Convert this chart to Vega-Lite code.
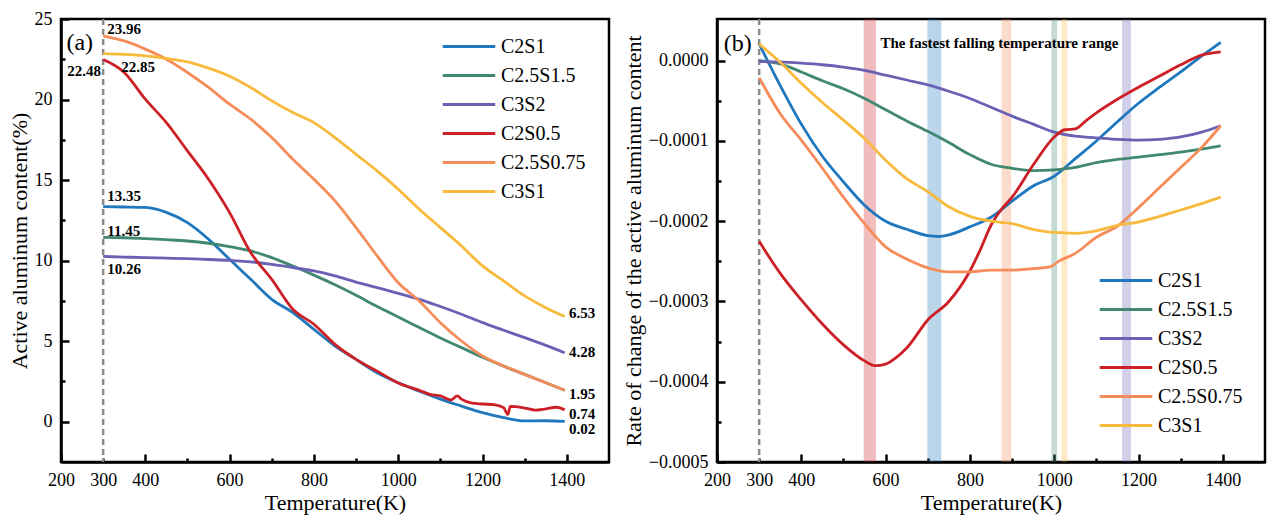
{
  "$schema": "https://vega.github.io/schema/vega-lite/v6.json",
  "padding": {"left": 6, "top": 8, "right": 5, "bottom": 5},
  "bounds": "flush",
  "spacing": 108,
  "config": {
    "font": "Liberation Serif",
    "view": {"stroke": "black", "strokeWidth": 2.5},
    "axis": {
      "grid": false, "labelFlush": false,
      "labelFont": "Liberation Serif", "labelFontSize": 18, "labelColor": "black",
      "titleFont": "Liberation Serif", "titleFontSize": 22, "titleFontWeight": "normal", "titleColor": "black",
      "domainColor": "black", "domainWidth": 2.5,
      "tickColor": "black", "tickWidth": 2.5, "tickSize": -8, "labelPadding": 17, "titlePadding": 3
    },
    "legend": {
      "orient": "none", "title": null, "padding": 0,
      "symbolType": "M-2.5,0H2.5", "symbolSize": 441, "symbolStrokeWidth": 3,
      "labelFont": "Liberation Serif", "labelFontSize": 20, "labelColor": "black",
      "labelOffset": 20, "rowPadding": 7, "labelLimit": 300
    }
  },
  "datasets": {
    "left": [
      {"s":"C2S1","T":300,"v":13.35},{"s":"C2S1","T":350,"v":13.33},{"s":"C2S1","T":400,"v":13.3},{"s":"C2S1","T":450,"v":13.0},{"s":"C2S1","T":500,"v":12.36},{"s":"C2S1","T":550,"v":11.33},{"s":"C2S1","T":600,"v":10.08},{"s":"C2S1","T":650,"v":8.84},{"s":"C2S1","T":700,"v":7.6},{"s":"C2S1","T":750,"v":6.77},{"s":"C2S1","T":800,"v":5.73},{"s":"C2S1","T":850,"v":4.7},{"s":"C2S1","T":900,"v":3.87},{"s":"C2S1","T":950,"v":3.04},{"s":"C2S1","T":1000,"v":2.42},{"s":"C2S1","T":1050,"v":1.9},{"s":"C2S1","T":1100,"v":1.4},{"s":"C2S1","T":1150,"v":0.97},{"s":"C2S1","T":1200,"v":0.56},{"s":"C2S1","T":1250,"v":0.25},{"s":"C2S1","T":1300,"v":0.05},{"s":"C2S1","T":1350,"v":0.06},{"s":"C2S1","T":1395,"v":0.02},
      {"s":"C2.5S1.5","T":300,"v":11.45},{"s":"C2.5S1.5","T":350,"v":11.42},{"s":"C2.5S1.5","T":400,"v":11.37},{"s":"C2.5S1.5","T":450,"v":11.3},{"s":"C2.5S1.5","T":500,"v":11.22},{"s":"C2.5S1.5","T":550,"v":11.08},{"s":"C2.5S1.5","T":600,"v":10.87},{"s":"C2.5S1.5","T":650,"v":10.6},{"s":"C2.5S1.5","T":700,"v":10.19},{"s":"C2.5S1.5","T":750,"v":9.67},{"s":"C2.5S1.5","T":800,"v":9.1},{"s":"C2.5S1.5","T":850,"v":8.5},{"s":"C2.5S1.5","T":900,"v":7.85},{"s":"C2.5S1.5","T":950,"v":7.15},{"s":"C2.5S1.5","T":1000,"v":6.5},{"s":"C2.5S1.5","T":1050,"v":5.85},{"s":"C2.5S1.5","T":1100,"v":5.2},{"s":"C2.5S1.5","T":1150,"v":4.6},{"s":"C2.5S1.5","T":1200,"v":4.0},{"s":"C2.5S1.5","T":1250,"v":3.45},{"s":"C2.5S1.5","T":1300,"v":2.94},{"s":"C2.5S1.5","T":1350,"v":2.42},{"s":"C2.5S1.5","T":1395,"v":1.95},
      {"s":"C3S2","T":300,"v":10.26},{"s":"C3S2","T":350,"v":10.22},{"s":"C3S2","T":400,"v":10.19},{"s":"C3S2","T":450,"v":10.15},{"s":"C3S2","T":500,"v":10.12},{"s":"C3S2","T":550,"v":10.07},{"s":"C3S2","T":600,"v":10.02},{"s":"C3S2","T":650,"v":9.92},{"s":"C3S2","T":700,"v":9.77},{"s":"C3S2","T":750,"v":9.57},{"s":"C3S2","T":800,"v":9.36},{"s":"C3S2","T":850,"v":9.05},{"s":"C3S2","T":900,"v":8.67},{"s":"C3S2","T":950,"v":8.32},{"s":"C3S2","T":1000,"v":7.97},{"s":"C3S2","T":1050,"v":7.6},{"s":"C3S2","T":1100,"v":7.15},{"s":"C3S2","T":1150,"v":6.67},{"s":"C3S2","T":1200,"v":6.15},{"s":"C3S2","T":1250,"v":5.68},{"s":"C3S2","T":1300,"v":5.22},{"s":"C3S2","T":1350,"v":4.74},{"s":"C3S2","T":1395,"v":4.28},
      {"s":"C2S0.5","T":300,"v":22.48},{"s":"C2S0.5","T":350,"v":21.68},{"s":"C2S0.5","T":400,"v":20.02},{"s":"C2S0.5","T":450,"v":18.57},{"s":"C2S0.5","T":500,"v":16.81},{"s":"C2S0.5","T":550,"v":15.05},{"s":"C2S0.5","T":600,"v":12.98},{"s":"C2S0.5","T":650,"v":10.5},{"s":"C2S0.5","T":700,"v":8.84},{"s":"C2S0.5","T":750,"v":6.98},{"s":"C2S0.5","T":800,"v":6.05},{"s":"C2S0.5","T":850,"v":4.8},{"s":"C2S0.5","T":900,"v":3.87},{"s":"C2S0.5","T":950,"v":3.14},{"s":"C2S0.5","T":1000,"v":2.4},{"s":"C2S0.5","T":1050,"v":1.95},{"s":"C2S0.5","T":1075,"v":1.7},{"s":"C2S0.5","T":1100,"v":1.6},{"s":"C2S0.5","T":1125,"v":1.35},{"s":"C2S0.5","T":1140,"v":1.6},{"s":"C2S0.5","T":1150,"v":1.4},{"s":"C2S0.5","T":1175,"v":1.15},{"s":"C2S0.5","T":1200,"v":1.1},{"s":"C2S0.5","T":1230,"v":1.05},{"s":"C2S0.5","T":1250,"v":0.87},{"s":"C2S0.5","T":1260,"v":0.45},{"s":"C2S0.5","T":1266,"v":0.95},{"s":"C2S0.5","T":1300,"v":0.85},{"s":"C2S0.5","T":1325,"v":0.72},{"s":"C2S0.5","T":1350,"v":0.8},{"s":"C2S0.5","T":1375,"v":0.9},{"s":"C2S0.5","T":1395,"v":0.74},
      {"s":"C2.5S0.75","T":300,"v":23.96},{"s":"C2.5S0.75","T":350,"v":23.64},{"s":"C2.5S0.75","T":400,"v":23.13},{"s":"C2.5S0.75","T":450,"v":22.5},{"s":"C2.5S0.75","T":500,"v":21.68},{"s":"C2.5S0.75","T":550,"v":20.75},{"s":"C2.5S0.75","T":600,"v":19.71},{"s":"C2.5S0.75","T":650,"v":18.78},{"s":"C2.5S0.75","T":700,"v":17.64},{"s":"C2.5S0.75","T":750,"v":16.29},{"s":"C2.5S0.75","T":800,"v":15.05},{"s":"C2.5S0.75","T":850,"v":13.71},{"s":"C2.5S0.75","T":900,"v":12.05},{"s":"C2.5S0.75","T":950,"v":10.29},{"s":"C2.5S0.75","T":1000,"v":8.63},{"s":"C2.5S0.75","T":1050,"v":7.5},{"s":"C2.5S0.75","T":1100,"v":6.15},{"s":"C2.5S0.75","T":1150,"v":5.01},{"s":"C2.5S0.75","T":1200,"v":4.08},{"s":"C2.5S0.75","T":1250,"v":3.46},{"s":"C2.5S0.75","T":1300,"v":2.94},{"s":"C2.5S0.75","T":1350,"v":2.42},{"s":"C2.5S0.75","T":1395,"v":1.95},
      {"s":"C3S1","T":300,"v":22.85},{"s":"C3S1","T":350,"v":22.8},{"s":"C3S1","T":400,"v":22.71},{"s":"C3S1","T":450,"v":22.55},{"s":"C3S1","T":500,"v":22.34},{"s":"C3S1","T":550,"v":21.95},{"s":"C3S1","T":600,"v":21.45},{"s":"C3S1","T":650,"v":20.75},{"s":"C3S1","T":700,"v":19.92},{"s":"C3S1","T":750,"v":19.2},{"s":"C3S1","T":800,"v":18.57},{"s":"C3S1","T":850,"v":17.64},{"s":"C3S1","T":900,"v":16.6},{"s":"C3S1","T":950,"v":15.57},{"s":"C3S1","T":1000,"v":14.43},{"s":"C3S1","T":1050,"v":13.19},{"s":"C3S1","T":1100,"v":12.05},{"s":"C3S1","T":1150,"v":10.91},{"s":"C3S1","T":1200,"v":9.67},{"s":"C3S1","T":1250,"v":8.74},{"s":"C3S1","T":1300,"v":7.81},{"s":"C3S1","T":1350,"v":7.08},{"s":"C3S1","T":1395,"v":6.53}
    ],
    "right": [
      {"s":"C2S1","T":300,"v":0.21e-4},{"s":"C2S1","T":350,"v":-0.31e-4},{"s":"C2S1","T":400,"v":-0.79e-4},{"s":"C2S1","T":450,"v":-1.19e-4},{"s":"C2S1","T":500,"v":-1.51e-4},{"s":"C2S1","T":550,"v":-1.8e-4},{"s":"C2S1","T":600,"v":-2.0e-4},{"s":"C2S1","T":650,"v":-2.1e-4},{"s":"C2S1","T":700,"v":-2.18e-4},{"s":"C2S1","T":725,"v":-2.19e-4},{"s":"C2S1","T":750,"v":-2.17e-4},{"s":"C2S1","T":800,"v":-2.07e-4},{"s":"C2S1","T":850,"v":-1.95e-4},{"s":"C2S1","T":900,"v":-1.75e-4},{"s":"C2S1","T":950,"v":-1.56e-4},{"s":"C2S1","T":1000,"v":-1.44e-4},{"s":"C2S1","T":1050,"v":-1.22e-4},{"s":"C2S1","T":1100,"v":-1.0e-4},{"s":"C2S1","T":1150,"v":-0.76e-4},{"s":"C2S1","T":1200,"v":-0.53e-4},{"s":"C2S1","T":1250,"v":-0.33e-4},{"s":"C2S1","T":1300,"v":-0.14e-4},{"s":"C2S1","T":1350,"v":0.06e-4},{"s":"C2S1","T":1395,"v":0.23e-4},
      {"s":"C2.5S1.5","T":300,"v":0.0},{"s":"C2.5S1.5","T":350,"v":-0.04e-4},{"s":"C2.5S1.5","T":400,"v":-0.14e-4},{"s":"C2.5S1.5","T":450,"v":-0.25e-4},{"s":"C2.5S1.5","T":500,"v":-0.35e-4},{"s":"C2.5S1.5","T":550,"v":-0.47e-4},{"s":"C2.5S1.5","T":600,"v":-0.61e-4},{"s":"C2.5S1.5","T":650,"v":-0.75e-4},{"s":"C2.5S1.5","T":700,"v":-0.88e-4},{"s":"C2.5S1.5","T":750,"v":-1.02e-4},{"s":"C2.5S1.5","T":800,"v":-1.17e-4},{"s":"C2.5S1.5","T":850,"v":-1.29e-4},{"s":"C2.5S1.5","T":900,"v":-1.34e-4},{"s":"C2.5S1.5","T":950,"v":-1.37e-4},{"s":"C2.5S1.5","T":1000,"v":-1.36e-4},{"s":"C2.5S1.5","T":1050,"v":-1.33e-4},{"s":"C2.5S1.5","T":1100,"v":-1.27e-4},{"s":"C2.5S1.5","T":1150,"v":-1.23e-4},{"s":"C2.5S1.5","T":1200,"v":-1.2e-4},{"s":"C2.5S1.5","T":1250,"v":-1.17e-4},{"s":"C2.5S1.5","T":1300,"v":-1.14e-4},{"s":"C2.5S1.5","T":1350,"v":-1.1e-4},{"s":"C2.5S1.5","T":1395,"v":-1.06e-4},
      {"s":"C3S2","T":300,"v":-0.01e-4},{"s":"C3S2","T":350,"v":-0.015e-4},{"s":"C3S2","T":400,"v":-0.03e-4},{"s":"C3S2","T":450,"v":-0.05e-4},{"s":"C3S2","T":500,"v":-0.08e-4},{"s":"C3S2","T":550,"v":-0.12e-4},{"s":"C3S2","T":600,"v":-0.18e-4},{"s":"C3S2","T":650,"v":-0.24e-4},{"s":"C3S2","T":700,"v":-0.3e-4},{"s":"C3S2","T":750,"v":-0.38e-4},{"s":"C3S2","T":800,"v":-0.47e-4},{"s":"C3S2","T":850,"v":-0.58e-4},{"s":"C3S2","T":900,"v":-0.69e-4},{"s":"C3S2","T":950,"v":-0.79e-4},{"s":"C3S2","T":1000,"v":-0.89e-4},{"s":"C3S2","T":1050,"v":-0.94e-4},{"s":"C3S2","T":1100,"v":-0.96e-4},{"s":"C3S2","T":1150,"v":-0.98e-4},{"s":"C3S2","T":1200,"v":-0.99e-4},{"s":"C3S2","T":1250,"v":-0.98e-4},{"s":"C3S2","T":1300,"v":-0.95e-4},{"s":"C3S2","T":1350,"v":-0.89e-4},{"s":"C3S2","T":1395,"v":-0.81e-4},
      {"s":"C2S0.5","T":300,"v":-2.25e-4},{"s":"C2S0.5","T":350,"v":-2.65e-4},{"s":"C2S0.5","T":400,"v":-2.98e-4},{"s":"C2S0.5","T":450,"v":-3.28e-4},{"s":"C2S0.5","T":500,"v":-3.54e-4},{"s":"C2S0.5","T":550,"v":-3.74e-4},{"s":"C2S0.5","T":575,"v":-3.8e-4},{"s":"C2S0.5","T":600,"v":-3.78e-4},{"s":"C2S0.5","T":625,"v":-3.7e-4},{"s":"C2S0.5","T":650,"v":-3.58e-4},{"s":"C2S0.5","T":700,"v":-3.23e-4},{"s":"C2S0.5","T":750,"v":-3.0e-4},{"s":"C2S0.5","T":800,"v":-2.62e-4},{"s":"C2S0.5","T":825,"v":-2.35e-4},{"s":"C2S0.5","T":850,"v":-2.05e-4},{"s":"C2S0.5","T":875,"v":-1.85e-4},{"s":"C2S0.5","T":900,"v":-1.7e-4},{"s":"C2S0.5","T":950,"v":-1.3e-4},{"s":"C2S0.5","T":1000,"v":-0.95e-4},{"s":"C2S0.5","T":1025,"v":-0.86e-4},{"s":"C2S0.5","T":1050,"v":-0.85e-4},{"s":"C2S0.5","T":1075,"v":-0.75e-4},{"s":"C2S0.5","T":1100,"v":-0.65e-4},{"s":"C2S0.5","T":1150,"v":-0.48e-4},{"s":"C2S0.5","T":1200,"v":-0.33e-4},{"s":"C2S0.5","T":1250,"v":-0.19e-4},{"s":"C2S0.5","T":1300,"v":-0.05e-4},{"s":"C2S0.5","T":1350,"v":0.07e-4},{"s":"C2S0.5","T":1395,"v":0.11e-4},
      {"s":"C2.5S0.75","T":300,"v":-0.21e-4},{"s":"C2.5S0.75","T":350,"v":-0.66e-4},{"s":"C2.5S0.75","T":400,"v":-0.99e-4},{"s":"C2.5S0.75","T":450,"v":-1.34e-4},{"s":"C2.5S0.75","T":500,"v":-1.7e-4},{"s":"C2.5S0.75","T":550,"v":-2.03e-4},{"s":"C2.5S0.75","T":600,"v":-2.32e-4},{"s":"C2.5S0.75","T":650,"v":-2.47e-4},{"s":"C2.5S0.75","T":700,"v":-2.58e-4},{"s":"C2.5S0.75","T":750,"v":-2.63e-4},{"s":"C2.5S0.75","T":800,"v":-2.63e-4},{"s":"C2.5S0.75","T":850,"v":-2.61e-4},{"s":"C2.5S0.75","T":900,"v":-2.61e-4},{"s":"C2.5S0.75","T":950,"v":-2.59e-4},{"s":"C2.5S0.75","T":990,"v":-2.57e-4},{"s":"C2.5S0.75","T":1010,"v":-2.5e-4},{"s":"C2.5S0.75","T":1050,"v":-2.4e-4},{"s":"C2.5S0.75","T":1100,"v":-2.2e-4},{"s":"C2.5S0.75","T":1150,"v":-2.06e-4},{"s":"C2.5S0.75","T":1200,"v":-1.83e-4},{"s":"C2.5S0.75","T":1250,"v":-1.58e-4},{"s":"C2.5S0.75","T":1300,"v":-1.33e-4},{"s":"C2.5S0.75","T":1350,"v":-1.08e-4},{"s":"C2.5S0.75","T":1395,"v":-0.81e-4},
      {"s":"C3S1","T":300,"v":0.21e-4},{"s":"C3S1","T":350,"v":-0.02e-4},{"s":"C3S1","T":400,"v":-0.28e-4},{"s":"C3S1","T":450,"v":-0.52e-4},{"s":"C3S1","T":500,"v":-0.74e-4},{"s":"C3S1","T":550,"v":-0.97e-4},{"s":"C3S1","T":600,"v":-1.24e-4},{"s":"C3S1","T":650,"v":-1.47e-4},{"s":"C3S1","T":700,"v":-1.63e-4},{"s":"C3S1","T":750,"v":-1.82e-4},{"s":"C3S1","T":800,"v":-1.94e-4},{"s":"C3S1","T":850,"v":-2.0e-4},{"s":"C3S1","T":900,"v":-2.03e-4},{"s":"C3S1","T":950,"v":-2.1e-4},{"s":"C3S1","T":1000,"v":-2.14e-4},{"s":"C3S1","T":1050,"v":-2.15e-4},{"s":"C3S1","T":1100,"v":-2.12e-4},{"s":"C3S1","T":1150,"v":-2.05e-4},{"s":"C3S1","T":1200,"v":-2.01e-4},{"s":"C3S1","T":1250,"v":-1.94e-4},{"s":"C3S1","T":1300,"v":-1.86e-4},{"s":"C3S1","T":1350,"v":-1.78e-4},{"s":"C3S1","T":1395,"v":-1.7e-4}
    ],
    "bands": [
      {"b":"C2S0.5","T":548,"T2":577},
      {"b":"C2S1","T":699,"T2":732},
      {"b":"C2.5S0.75","T":875,"T2":898},
      {"b":"C2.5S1.5","T":993,"T2":1007},
      {"b":"C3S1","T":1017,"T2":1031},
      {"b":"C3S2","T":1161,"T2":1182}
    ]
  },
  "hconcat": [
    {
      "width": 548,
      "height": 443,
      "encoding": {
        "x": {
          "field": "T", "type": "quantitative", "title": "Temperature(K)",
          "scale": {"domain": [200, 1500], "nice": false},
          "axis": {
            "values": [200, 300, 400, 500, 600, 700, 800, 900, 1000, 1100, 1200, 1300, 1400],
            "format": "d",
            "labelExpr": "(datum.value % 200 == 100 && datum.value != 300) ? '' : datum.label",
            "tickDash": {"condition": {"test": "datum.value % 200 == 100", "value": [4, 30]}, "value": [8, 0]}
          }
        }
      },
      "layer": [
        {
          "data": {"values": [{"T": 300}]},
          "mark": {"type": "rule", "color": "#8a8a8a", "strokeWidth": 2.5, "strokeDash": [6, 4]},
          "encoding": {}
        },
        {
          "data": {"name": "left"},
          "mark": {"type": "line", "strokeWidth": 2.8, "interpolate": "monotone"},
          "encoding": {
            "y": {
              "field": "v", "type": "quantitative", "title": "Active aluminum content(%)",
              "scale": {"domain": [-2.5, 25], "nice": false, "zero": false},
              "axis": {
                "values": [0, 2.5, 5, 7.5, 10, 12.5, 15, 17.5, 20, 22.5, 25],
                "labelExpr": "datum.value % 5 == 0 ? format(datum.value, 'd') : ''",
                "tickDash": {"condition": {"test": "datum.value % 5 != 0", "value": [4, 30]}, "value": [8, 0]}
              }
            },
            "color": {
              "field": "s", "type": "nominal",
              "scale": {
                "domain": ["C2S1", "C2.5S1.5", "C3S2", "C2S0.5", "C2.5S0.75", "C3S1"],
                "range": ["#1f77be", "#408872", "#6a60b4", "#cc2026", "#f58c5a", "#f8ba3c"]
              },
              "legend": {"legendX": 396, "legendY": 15.5}
            }
          }
        },
        {
          "data": {"values": [
            {"T": 310, "v": 24.35, "t": "23.96"},
            {"T": 343, "v": 22.0, "t": "22.85"},
            {"T": 310, "v": 14.0, "t": "13.35"},
            {"T": 310, "v": 11.85, "t": "11.45"},
            {"T": 310, "v": 9.45, "t": "10.26"},
            {"T": 1405, "v": 6.77, "t": "6.53"},
            {"T": 1405, "v": 4.35, "t": "4.28"},
            {"T": 1405, "v": 1.74, "t": "1.95"},
            {"T": 1405, "v": 0.5, "t": "0.74"},
            {"T": 1405, "v": -0.45, "t": "0.02"}
          ]},
          "mark": {"type": "text", "align": "left", "baseline": "middle", "fontWeight": "bold", "fontSize": 15, "color": "black"},
          "encoding": {
            "y": {"field": "v", "type": "quantitative", "title": "Active aluminum content(%)"},
            "text": {"field": "t"}
          }
        },
        {
          "data": {"values": [{"T": 295, "v": 21.8, "t": "22.48"}]},
          "mark": {"type": "text", "align": "right", "baseline": "middle", "fontWeight": "bold", "fontSize": 15, "color": "black"},
          "encoding": {
            "y": {"field": "v", "type": "quantitative", "title": "Active aluminum content(%)"},
            "text": {"field": "t"}
          }
        },
        {
          "data": {"values": [{"T": 213, "v": 23.5, "t": "(a)"}]},
          "mark": {"type": "text", "align": "left", "baseline": "middle", "fontSize": 24, "color": "black"},
          "encoding": {
            "y": {"field": "v", "type": "quantitative", "title": "Active aluminum content(%)"},
            "text": {"field": "t"}
          }
        }
      ]
    },
    {
      "width": 548,
      "height": 443,
      "encoding": {
        "x": {
          "field": "T", "type": "quantitative", "title": "Temperature(K)",
          "scale": {"domain": [200, 1500], "nice": false},
          "axis": {
            "values": [200, 300, 400, 500, 600, 700, 800, 900, 1000, 1100, 1200, 1300, 1400],
            "format": "d",
            "labelExpr": "(datum.value % 200 == 100 && datum.value != 300) ? '' : datum.label",
            "tickDash": {"condition": {"test": "datum.value % 200 == 100", "value": [4, 30]}, "value": [8, 0]}
          }
        }
      },
      "layer": [
        {
          "data": {"name": "bands"},
          "mark": {"type": "rect", "opacity": 0.3},
          "encoding": {
            "x2": {"field": "T2"},
            "fill": {
              "field": "b", "type": "nominal", "legend": null,
              "scale": {
                "domain": ["C2S0.5", "C2S1", "C2.5S0.75", "C2.5S1.5", "C3S1", "C3S2"],
                "range": ["#cc2026", "#1f77be", "#f58c5a", "#408872", "#f8ba3c", "#6a60b4"]
              }
            }
          }
        },
        {
          "data": {"values": [{"T": 300}]},
          "mark": {"type": "rule", "color": "#8a8a8a", "strokeWidth": 2.5, "strokeDash": [6, 4]},
          "encoding": {}
        },
        {
          "data": {"name": "right"},
          "mark": {"type": "line", "strokeWidth": 2.8, "interpolate": "monotone"},
          "encoding": {
            "y": {
              "field": "v", "type": "quantitative", "title": "Rate of change of the active aluminum content",
              "scale": {"domain": [-0.0005, 0.000052], "nice": false, "zero": false},
              "axis": {
                "values": [-0.0005, -0.00045, -0.0004, -0.00035, -0.0003, -0.00025, -0.0002, -0.00015, -0.0001, -0.00005, 0],
                "format": ".4f",
                "labelExpr": "abs(round(datum.value * 20000)) % 2 == 1 ? '' : datum.label",
                "tickDash": {"condition": {"test": "abs(round(datum.value * 20000)) % 2 == 1", "value": [4, 30]}, "value": [8, 0]}
              }
            },
            "color": {
              "field": "s", "type": "nominal",
              "scale": {
                "domain": ["C2S1", "C2.5S1.5", "C3S2", "C2S0.5", "C2.5S0.75", "C3S1"],
                "range": ["#1f77be", "#408872", "#6a60b4", "#cc2026", "#f58c5a", "#f8ba3c"]
              },
              "legend": {"legendX": 397, "legendY": 249.5}
            }
          }
        },
        {
          "data": {"values": [{"T": 870, "v": 0.0000223, "t": "The fastest falling temperature range"}]},
          "mark": {"type": "text", "align": "center", "baseline": "middle", "fontWeight": "bold", "fontSize": 15, "color": "black"},
          "encoding": {
            "y": {"field": "v", "type": "quantitative", "title": "Rate of change of the active aluminum content"},
            "text": {"field": "t"}
          }
        },
        {
          "data": {"values": [{"T": 216, "v": 0.000021, "t": "(b)"}]},
          "mark": {"type": "text", "align": "left", "baseline": "middle", "fontSize": 24, "color": "black"},
          "encoding": {
            "y": {"field": "v", "type": "quantitative", "title": "Rate of change of the active aluminum content"},
            "text": {"field": "t"}
          }
        }
      ]
    }
  ],
  "resolve": {"scale": {"color": "independent", "fill": "independent"}, "legend": {"color": "independent"}}
}
